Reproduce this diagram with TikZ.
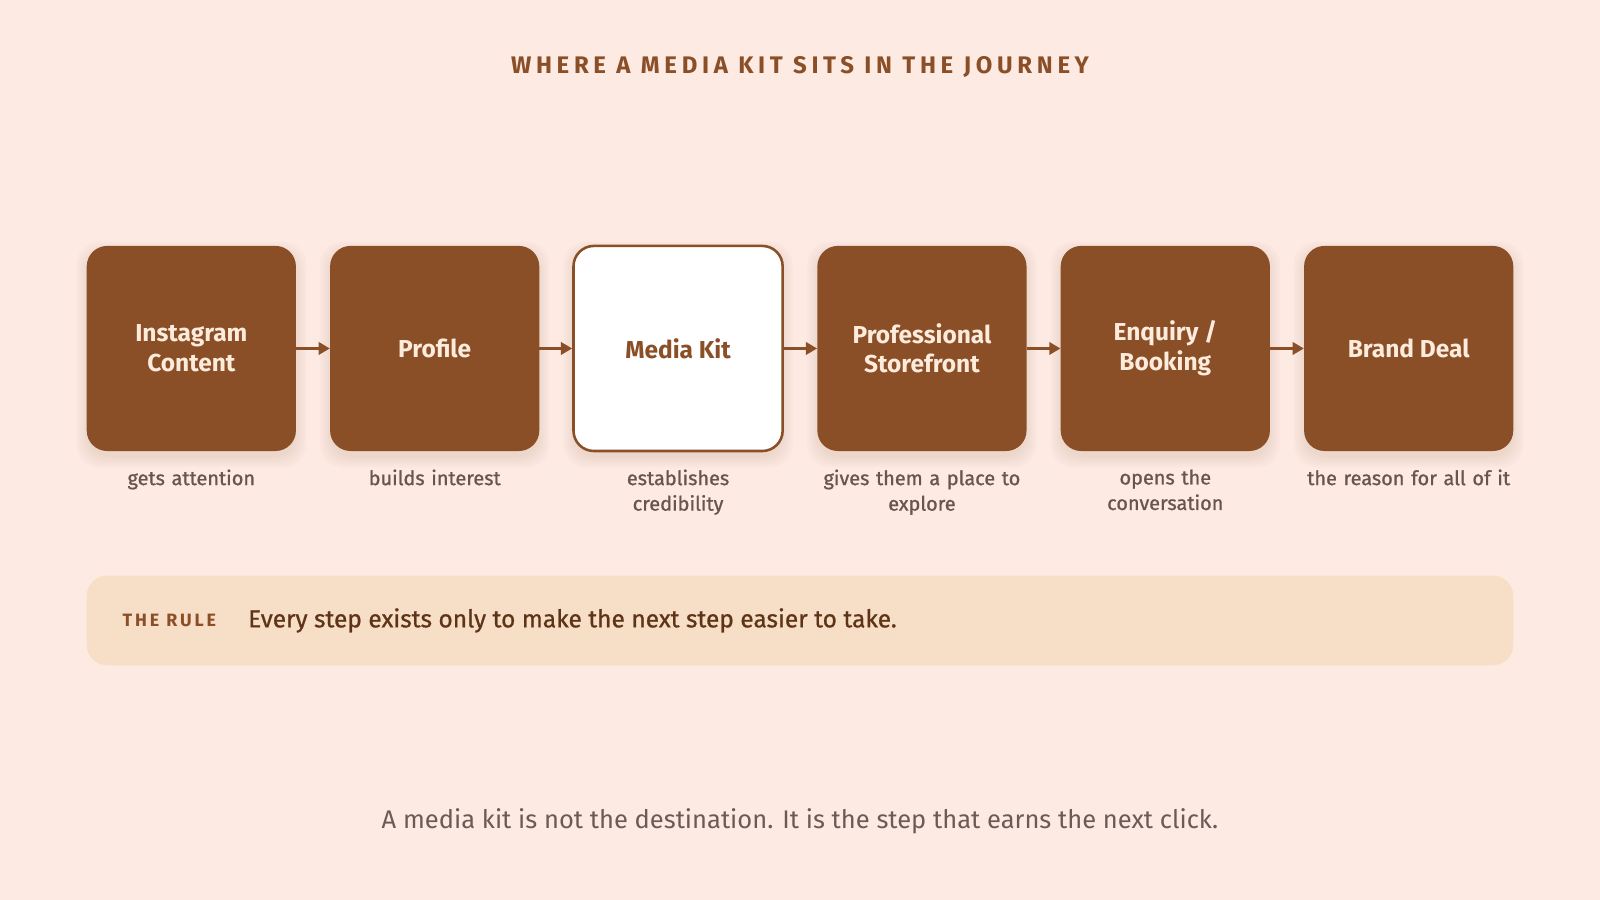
\documentclass[tikz,border=0pt]{standalone}
\usepackage{fontspec}
\setmainfont{Fira Sans}
\usetikzlibrary{arrows.meta}
\definecolor{bgc}{HTML}{FDEAE3}
\definecolor{brownc}{HTML}{8B4F28}
\definecolor{creamc}{HTML}{FDEBDC}
\definecolor{capc}{HTML}{6A554D}
\definecolor{rulebg}{HTML}{F7DEC6}
\definecolor{ruletext}{HTML}{5E3418}
\definecolor{bottomc}{HTML}{6B5A55}
\tikzset{
  stepbox/.style={rectangle, rounded corners=20pt, minimum width=205pt, minimum height=201pt,
    inner sep=0pt, fill=brownc, text=creamc, align=center,
    font=\bfseries\fontsize{24}{29}\selectfont},
  keybox/.style={stepbox, fill=white, draw=brownc, line width=2.5pt, text=brownc},
  caption/.style={anchor=north, align=center, text width=230pt, inner sep=0pt, text=capc,
    font=\fontsize{19.5}{25}\selectfont\addfontfeature{FakeBold=1}},
  flow/.style={draw=brownc, line width=3pt, -{Triangle[length=11pt,width=12pt]}},
  shade/.style={fill=brownc, fill opacity=0.018, rounded corners=22pt},
}
\begin{document}
\begin{tikzpicture}[x=1pt,y=-1pt]
\fill[bgc] (0,0) rectangle (1568,882);
\useasboundingbox (0,0) rectangle (1568,882);
\foreach \cx in {187.5,426,664.5,903.5,1142,1380.5}
  \foreach \k in {0,2,4,6,8,10}
    \fill[shade] (\cx-102.5-\k,241+6-\k) rectangle (\cx+102.5+\k,442+6+\k);
\node[text=brownc, font=\bfseries\fontsize{23.5}{26}\selectfont\addfontfeature{LetterSpace=19.5}] (title) at (784,66) {WHERE A MEDIA KIT SITS IN THE JOURNEY};
\node[stepbox] (s1) at (187.5,341.5) {Instagram\\Content};
\node[stepbox] (s2) at (426,341.5) {Profile};
\node[keybox] (s3) at (664.5,341.5) {Media Kit};
\node[stepbox] (s4) at (903.5,341.5) {Professional\\Storefront};
\node[stepbox] (s5) at (1142,341.5) {Enquiry /\\Booking};
\node[stepbox] (s6) at (1380.5,341.5) {Brand Deal};
\foreach \a/\b in {s1/s2,s2/s3,s3/s4,s4/s5,s5/s6} \draw[flow] (\a.east) -- (\b.west);
\node[caption] (c1) at (187.5,460) {gets attention};
\node[caption] (c2) at (426,460) {builds interest};
\node[caption] (c3) at (664.5,460) {establishes\\credibility};
\node[caption] (c4) at (903.5,460) {gives them a place to\\explore};
\node[caption] (c5) at (1142,460) {opens the\\conversation};
\node[caption] (c6) at (1380.5,460) {the reason for all of it};
\node[rectangle, rounded corners=20pt, fill=rulebg, minimum width=1398pt, minimum height=88pt, inner sep=0pt] (rule) at (784,608) {};
\node[anchor=west, inner sep=0pt, text=brownc, font=\bfseries\fontsize{17.5}{20}\selectfont\addfontfeature{LetterSpace=16}] (rulelabel) at (120,608) {THE RULE};
\node[anchor=west, inner sep=0pt, text=ruletext, font=\fontsize{24}{28}\selectfont\addfontfeature{FakeBold=0.8}] (ruletxt) at (243,608) {Every step exists only to make the next step easier to take.};
\node[text=bottomc, font=\fontsize{25}{30}\selectfont] (bottom) at (784,805) {A media kit is not the destination. It is the step that earns the next click.};
\end{tikzpicture}
\end{document}
